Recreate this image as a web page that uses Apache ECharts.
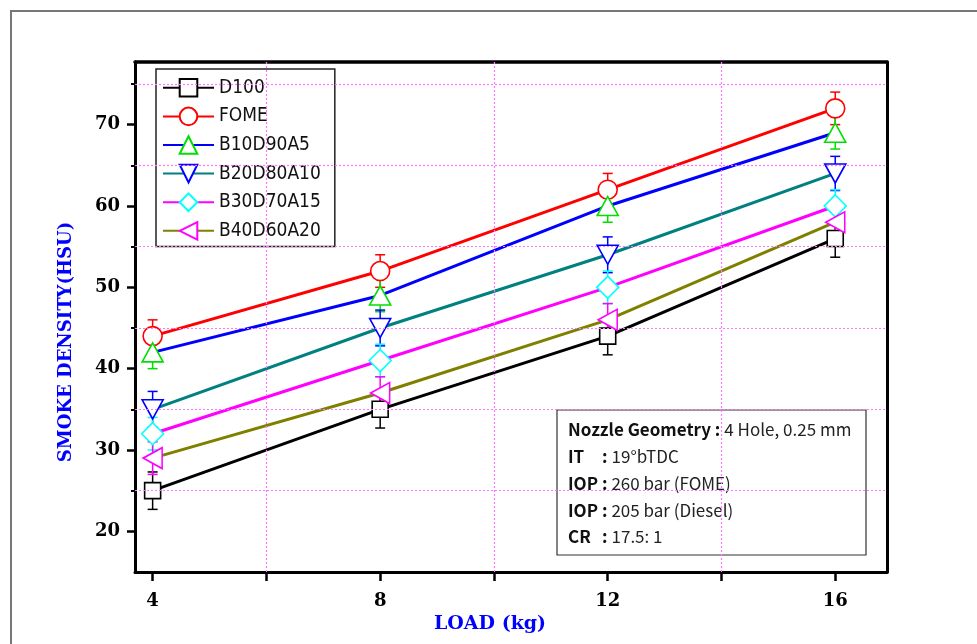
<!DOCTYPE html>
<html>
<head>
<meta charset="utf-8">
<script src="https://cdn.jsdelivr.net/npm/echarts@6/dist/echarts.min.js"></script>
<style>
  html, body { margin: 0; padding: 0; background: #fff; }
  #chart { width: 977px; height: 644px; }
</style>
</head>
<body>
<div id="chart"></div>
<script>
// Engine load (kg) at which smoke density was measured
const loads = [4, 8, 12, 16];

// Smoke density (HSU) for each fuel blend
const d100 = [25, 35, 44, 56];
const fome = [44, 52, 62, 72];
const b10d90a5 = [42, 49, 60, 69];
const b20d80a10 = [35, 45, 54, 64];
const b30d70a15 = [32, 41, 50, 60];
const b40d60a20 = [29, 37, 46, 58];

// Error (+/-) on each measurement
const d100Err = [2.3, 2.3, 2.3, 2.3];
const fomeErr = [2, 2, 2, 2];
const b10d90a5Err = [2, 2, 2, 2];
const b20d80a10Err = [2.2, 2.2, 2.2, 2.1];
const b30d70a15Err = [2, 2, 2, 2];
const b40d60a20Err = [2, 2, 2, 2];

// Axis ticks and gridlines
const xTickValues = [4, 6, 8, 10, 12, 14, 16];
const xLabelValues = [4, 8, 12, 16];
const xGridValues = [6, 10, 14];
const yTickValues = [20, 30, 40, 50, 60, 70];
const yMinorTickValues = [25, 35, 45, 55, 65, 75];
const yGridValues = [25, 35, 45, 55, 65, 75];

// Test conditions listed in the note box
const noteLabels = ['Nozzle Geometry :', 'IT', 'IOP :', 'IOP :', 'CR'];
const noteValues = ['4 Hole, 0.25 mm', '19°bTDC', '260 bar (FOME)', '205 bar (Diesel)', '17.5: 1'];

const X_MIN = 3.69, X_MAX = 16.91, Y_MIN = 15, Y_MAX = 77.7;

const blends = [
  { name: 'D100', values: d100, err: d100Err, line: '#000000', mark: '#000000', symbol: 'rect', size: 16, rotate: 0 },
  { name: 'FOME', values: fome, err: fomeErr, line: '#ff0000', mark: '#ff0000', symbol: 'circle', size: 19, rotate: 0 },
  { name: 'B10D90A5', values: b10d90a5, err: b10d90a5Err, line: '#0000ff', mark: '#00e000', symbol: 'triangle', size: [21, 19], rotate: 0 },
  { name: 'B20D80A10', values: b20d80a10, err: b20d80a10Err, line: '#008080', mark: '#0000ff', symbol: 'triangle', size: [21, 19], rotate: 180 },
  { name: 'B30D70A15', values: b30d70a15, err: b30d70a15Err, line: '#ff00ff', mark: '#00ffff', symbol: 'diamond', size: 22, rotate: 0 },
  { name: 'B40D60A20', values: b40d60a20, err: b40d60a20Err, line: '#808000', mark: '#ff00ff', symbol: 'triangle', size: [21, 19], rotate: 90 }
];

const serifFont = 'DejaVu Serif';
const sansFont = 'DejaVu Sans Condensed, DejaVu Sans';
const noteFont = 'Noto Sans CJK JP';
const noteSize = 17;

function errorBarSeries(b) {
  return {
    type: 'custom',
    name: b.name + ' error',
    xAxisIndex: 0,
    yAxisIndex: 0,
    z: 1,
    silent: true,
    data: loads.map((x, i) => [x, b.values[i] - b.err[i], b.values[i] + b.err[i]]),
    encode: { x: 0, y: [1, 2] },
    renderItem: function (params, api) {
      const x = api.value(0);
      const lo = api.coord([x, api.value(1)]);
      const hi = api.coord([x, api.value(2)]);
      const hw = 5;
      const style = { stroke: b.mark, lineWidth: 1.5, fill: null };
      return {
        type: 'group',
        children: [
          { type: 'line', shape: { x1: lo[0], y1: lo[1], x2: hi[0], y2: hi[1] }, style: style },
          { type: 'line', shape: { x1: hi[0] - hw, y1: hi[1], x2: hi[0] + hw, y2: hi[1] }, style: style },
          { type: 'line', shape: { x1: lo[0] - hw, y1: lo[1], x2: lo[0] + hw, y2: lo[1] }, style: style }
        ]
      };
    }
  };
}

function lineSeries(b, idx) {
  return {
    type: 'line',
    name: b.name,
    xAxisIndex: 0,
    yAxisIndex: 0,
    z: 2 + idx * 0.01,
    data: loads.map((x, i) => [x, b.values[i]]),
    symbol: b.symbol,
    symbolSize: b.size,
    symbolRotate: b.rotate,
    showAllSymbol: true,
    lineStyle: { color: b.line, width: 3 },
    itemStyle: { color: '#ffffff', borderColor: b.mark, borderWidth: 1.6 },
    emphasis: { disabled: true }
  };
}

// Dotted gridlines at the minor tick positions
const gridSeries = {
  type: 'line',
  name: 'grid',
  xAxisIndex: 0,
  yAxisIndex: 0,
  z: 0,
  data: [],
  silent: true,
  markLine: {
    silent: true,
    symbol: 'none',
    animation: false,
    label: { show: false },
    lineStyle: { color: '#ff77ff', type: [2, 2], width: 1.2 },
    emphasis: { disabled: true },
    data: yGridValues.map(v => ({ yAxis: v })).concat(xGridValues.map(v => ({ xAxis: v })))
  }
};

const axisLineStyle = { color: '#000', width: 3 };

const noteTop = 410, noteLeft = 557, noteRowGap = 26.7;
const boldRich = { fontFamily: noteFont, fontWeight: 'bold', fontSize: noteSize, fill: '#111', padding: [0, 4, 0, 0] };
const plainRich = { fontFamily: noteFont, fontWeight: 'normal', fontSize: noteSize, fill: '#222' };
const noteChildren = [
  {
    type: 'rect',
    shape: { x: noteLeft, y: noteTop, width: 309, height: 145 },
    style: { fill: '#fff', stroke: '#333', lineWidth: 1.2 }
  }
];
noteLabels.forEach((lab, i) => {
  const y = noteTop + 20 + i * noteRowGap;
  if (lab.indexOf(':') >= 0) {
    noteChildren.push({
      type: 'text',
      style: {
        x: noteLeft + 11, y: y,
        text: '{b|' + lab + '}{n|' + noteValues[i] + '}',
        verticalAlign: 'middle',
        rich: { b: boldRich, n: plainRich }
      }
    });
  } else {
    noteChildren.push({
      type: 'text',
      style: { x: noteLeft + 11, y: y, text: lab, verticalAlign: 'middle',
        fontFamily: noteFont, fontWeight: 'bold', fontSize: noteSize, fill: '#111' }
    });
    noteChildren.push({
      type: 'text',
      style: { x: noteLeft + 45, y: y,
        text: '{b|:}{n|' + noteValues[i] + '}',
        verticalAlign: 'middle',
        rich: { b: boldRich, n: plainRich }
      }
    });
  }
});

const chart = echarts.init(document.getElementById('chart'), null, { renderer: 'canvas' });

chart.setOption({
  animation: false,
  backgroundColor: '#ffffff',
  grid: { left: 135, right: 90, top: 62, bottom: 72, containLabel: false },
  legend: {
    data: blends.map(b => b.name),
    orient: 'vertical',
    left: 156,
    top: 69,
    itemWidth: 51,
    itemHeight: 22,
    itemGap: 9,
    padding: [9, 14, 6, 6],
    backgroundColor: '#ffffff',
    borderColor: '#222',
    borderWidth: 1.5,
    selectedMode: false,
    textStyle: { fontFamily: sansFont, fontSize: 19, color: '#111' }
  },
  xAxis: [
    {
      type: 'value',
      min: X_MIN,
      max: X_MAX,
      position: 'bottom',
      name: 'LOAD (kg)',
      nameLocation: 'middle',
      nameGap: 39,
      nameTextStyle: { fontFamily: serifFont, fontWeight: 'bold', fontSize: 19, color: '#0000ff', padding: [0, 42, 0, 0] },
      axisLine: { onZero: false, lineStyle: axisLineStyle },
      axisTick: { show: true, inside: false, length: 9, customValues: xTickValues, lineStyle: { color: '#000', width: 2.5 } },
      axisLabel: { customValues: xLabelValues, margin: 20, fontFamily: serifFont, fontWeight: 'bold', fontSize: 18, color: '#000' },
      splitLine: { show: false }
    },
    {
      type: 'value',
      min: X_MIN,
      max: X_MAX,
      position: 'top',
      axisLine: { onZero: false, lineStyle: { color: '#000', width: 3.5 } },
      axisTick: { show: false },
      axisLabel: { show: false },
      splitLine: { show: false }
    }
  ],
  yAxis: [
    {
      type: 'value',
      min: Y_MIN,
      max: Y_MAX,
      position: 'left',
      name: 'SMOKE DENSITY(HSU)',
      nameLocation: 'middle',
      nameGap: 60,
      nameTextStyle: { fontFamily: serifFont, fontWeight: 'bold', fontSize: 18, color: '#0000ff', padding: [0, 50, 0, 0] },
      axisLine: { onZero: false, lineStyle: axisLineStyle },
      axisTick: { show: true, inside: false, length: 8, customValues: yTickValues, lineStyle: { color: '#000', width: 2.5 } },
      axisLabel: { customValues: yTickValues, margin: 15, fontFamily: serifFont, fontWeight: 'bold', fontSize: 18, color: '#000' },
      splitLine: { show: false }
    },
    {
      type: 'value',
      min: Y_MIN,
      max: Y_MAX,
      position: 'left',
      axisLine: { show: false, onZero: false },
      axisTick: { show: true, inside: false, length: 4, customValues: yMinorTickValues, lineStyle: { color: '#000', width: 2 } },
      axisLabel: { show: false },
      splitLine: { show: false }
    },
    {
      type: 'value',
      min: Y_MIN,
      max: Y_MAX,
      position: 'right',
      axisLine: { onZero: false, lineStyle: axisLineStyle },
      axisTick: { show: false },
      axisLabel: { show: false },
      splitLine: { show: false }
    }
  ],
  series: [gridSeries]
    .concat(blends.map(errorBarSeries))
    .concat(blends.map(lineSeries)),
  graphic: [
    {
      type: 'rect',
      z: -1,
      silent: true,
      shape: { x: 11, y: 11, width: 990, height: 660 },
      style: { fill: null, stroke: '#777', lineWidth: 2 }
    },
    {
      type: 'group',
      z: 100,
      silent: true,
      children: noteChildren
    }
  ]
});
</script>
</body>
</html>
